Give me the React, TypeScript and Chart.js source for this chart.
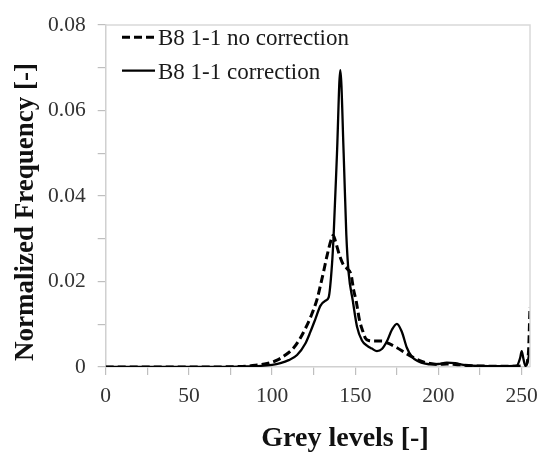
import React, { useEffect, useRef } from "react";
import { Chart, registerables } from "chart.js";

Chart.register(...registerables);

// Grey levels (x) and normalized frequency (y)
const noCorrX = [0, 50, 80, 90, 97, 103, 108, 113, 117, 121, 124, 127, 129, 131, 133, 135.7, 136.7, 138, 140.6, 143, 145, 147.5, 149, 150.5, 152.5, 154.4, 156, 158, 162, 166, 170, 175, 180, 185, 190, 195, 200, 205, 210, 220, 230, 245, 252, 254, 255];
const noCorrY = [0, 0, 0.0001, 0.0004, 0.0008, 0.0016, 0.0028, 0.0045, 0.0068, 0.0098, 0.0125, 0.0158, 0.019, 0.0224, 0.026, 0.030, 0.0308, 0.0295, 0.026, 0.0238, 0.023, 0.0215, 0.018, 0.0155, 0.011, 0.0085, 0.0068, 0.0062, 0.0061, 0.0061, 0.0055, 0.0045, 0.0033, 0.0022, 0.0013, 0.0008, 0.0006, 0.0007, 0.0006, 0.0003, 0.0002, 0.0002, 0.0003, 0.003, 0.014];

const corrX = [0, 20, 40, 60, 80, 90, 100, 105, 110, 115, 120, 123, 126, 129, 132, 134, 136, 137, 139, 141, 143, 144.6, 146, 148.5, 151, 154, 157, 160, 163, 166, 169, 172, 175, 178, 181, 184, 188, 192, 196, 200, 205, 210, 215, 220, 230, 240, 247, 249, 250, 251, 252, 253, 254, 255];
const corrY = [0, 0, 0, 0, 0.0001, 0.0002, 0.0005, 0.0009, 0.0016, 0.0028, 0.0055, 0.0082, 0.0112, 0.0143, 0.0155, 0.0163, 0.024, 0.031, 0.050, 0.0694, 0.050, 0.031, 0.022, 0.0155, 0.0095, 0.0062, 0.005, 0.0043, 0.0037, 0.0042, 0.006, 0.0087, 0.0101, 0.0082, 0.0045, 0.0024, 0.0013, 0.0008, 0.0006, 0.0007, 0.001, 0.0009, 0.0005, 0.0003, 0.0002, 0.0002, 0.0003, 0.002, 0.0037, 0.002, 0.0004, 0.0006, 0.002, 0.004];

const seriesNames = ["B8 1-1 no correction", "B8 1-1 correction"];
const xTickLabels = ["0", "50", "100", "150", "200", "250"];
const yTickLabels = ["0", "0.02", "0.04", "0.06", "0.08"];
const xTitle = "Grey levels [-]";
const yTitle = "Normalized Frequency [-]";

const SERIF = '"Liberation Serif", "Times New Roman", serif';

export default function App() {
  const ref = useRef<HTMLCanvasElement | null>(null);

  useEffect(() => {
    document.body.style.margin = "0";
    const canvas = ref.current;
    if (!canvas) return;

    const toPts = (xs: number[], ys: number[]) => xs.map((x, i) => ({ x, y: ys[i] }));

    const extras = {
      id: "extras",
      afterDraw(chart: any) {
        const { ctx, chartArea } = chart;
        ctx.save();
        // top and right border
        ctx.strokeStyle = "#d9d9d9";
        ctx.lineWidth = 1.5;
        ctx.beginPath();
        ctx.moveTo(chartArea.left, chartArea.top);
        ctx.lineTo(chartArea.right, chartArea.top);
        ctx.lineTo(chartArea.right, chartArea.bottom);
        ctx.stroke();

        // legend
        const ds = chart.data.datasets;
        const rows = [
          { lineY: 37.3, textY: 45 },
          { lineY: 70.7, textY: 78.5 },
        ];
        ds.forEach((d: any, i: number) => {
          const r = rows[i];
          ctx.strokeStyle = d.borderColor;
          ctx.lineWidth = d.borderWidth;
          ctx.setLineDash(d.borderDash || []);
          ctx.beginPath();
          ctx.moveTo(122, r.lineY);
          ctx.lineTo(155, r.lineY);
          ctx.stroke();
          ctx.setLineDash([]);
          ctx.fillStyle = "#1a1a1a";
          ctx.font = `23px ${SERIF}`;
          ctx.textAlign = "left";
          ctx.textBaseline = "alphabetic";
          ctx.fillText(d.label, 158, r.textY);
        });

        // axis titles
        ctx.fillStyle = "#111";
        ctx.font = `bold 28px ${SERIF}`;
        ctx.textAlign = "center";
        ctx.textBaseline = "alphabetic";
        ctx.fillText(xTitle, 345, 446);
        ctx.font = `bold 27px ${SERIF}`;
        ctx.translate(33, 212);
        ctx.rotate(-Math.PI / 2);
        ctx.fillText(yTitle, 0, 0);
        ctx.restore();
      },
    };

    const chart = new Chart(canvas, {
      type: "line",
      data: {
        datasets: [
          {
            label: seriesNames[0],
            data: toPts(noCorrX, noCorrY),
            borderColor: "#000",
            borderWidth: 3,
            borderDash: [8, 4],
            pointRadius: 0,
            cubicInterpolationMode: "monotone",
            fill: false,
          },
          {
            label: seriesNames[1],
            data: toPts(corrX, corrY),
            borderColor: "#000",
            borderWidth: 2.3,
            pointRadius: 0,
            cubicInterpolationMode: "monotone",
            fill: false,
          },
        ],
      },
      options: {
        responsive: false,
        animation: false,
        devicePixelRatio: 1,
        layout: { padding: { top: 21, right: 9.3, left: 0, bottom: 0 } },
        plugins: { legend: { display: false }, tooltip: { enabled: false }, title: { display: false } },
        scales: {
          x: {
            type: "linear",
            min: 0,
            max: 255,
            afterFit: (s: any) => { s.height = 85; },
            grid: { drawOnChartArea: false, drawTicks: true, tickLength: 8, color: "#bfbfbf", lineWidth: 1.2 },
            border: { color: "#d0d0d0", width: 1.5 },
            ticks: {
              stepSize: 25,
              includeBounds: false,
              autoSkip: false,
              maxRotation: 0,
              padding: 8,
              color: "#333",
              font: { family: SERIF, size: 21.5 },
              callback: (v: any) => {
                const s = String(Math.round(Number(v)));
                return xTickLabels.includes(s) ? s : "";
              },
            },
          },
          y: {
            type: "linear",
            min: 0,
            max: 0.08,
            afterFit: (s: any) => { s.width = 105.7; },
            grid: { drawOnChartArea: false, drawTicks: true, tickLength: 8, color: "#bfbfbf", lineWidth: 1.2 },
            border: { color: "#d0d0d0", width: 1.5 },
            ticks: {
              stepSize: 0.01,
              autoSkip: false,
              padding: 12,
              color: "#333",
              font: { family: SERIF, size: 21.5 },
              callback: (v: any) => {
                const n = Number(v);
                const s = Math.abs(n) < 1e-9 ? "0" : n.toFixed(2);
                return yTickLabels.includes(s) ? s : "";
              },
            },
          },
        },
      },
      plugins: [extras],
    } as any);

    return () => chart.destroy();
  }, []);

  return (
    <div style={{ position: "absolute", left: 0, top: 0, width: 546, height: 452 }}>
      <canvas ref={ref} width={546} height={452} style={{ display: "block", width: 546, height: 452 }} />
    </div>
  );
}
